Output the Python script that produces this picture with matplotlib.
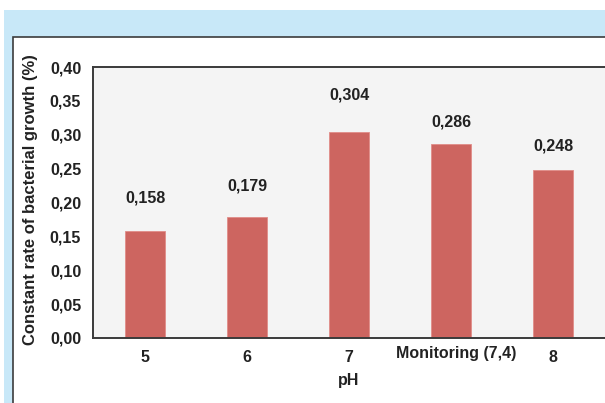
import matplotlib.pyplot as plt
from matplotlib.patches import Rectangle
from matplotlib.ticker import FuncFormatter
from matplotlib.transforms import ScaledTranslation

plt.rcParams['font.family'] = ['Liberation Sans', 'DejaVu Sans']

# growth rate per pH condition
categories = ["5", "6", "7", "Monitoring (7,4)", "8"]
rates = [0.158, 0.179, 0.304, 0.286, 0.248]
yticks = [0.0, 0.05, 0.10, 0.15, 0.20, 0.25, 0.30, 0.35, 0.40]

# vertical gap (points) between each bar and its value label
label_gap = [24, 22, 27, 16, 17]

W, H = 605, 403
fig = plt.figure(figsize=(W / 100, H / 100), dpi=100)

# light blue frame and white panel behind the chart
fig.patches.append(Rectangle((4 / W, 0), 1, 1 - 10 / H, transform=fig.transFigure,
                             facecolor='#c8e8f8', edgecolor='none', zorder=-3))
fig.patches.append(Rectangle((13 / W, -0.05), 1, 1 - 37 / H + 0.05, transform=fig.transFigure,
                             facecolor='white', edgecolor='#3c3c3c', linewidth=1.2, zorder=-2))

ax = fig.add_axes([93 / W, 1 - 338 / H, (640 - 93) / W, (338 - 67) / H])
ax.set_facecolor('#f4f4f4')

x = list(range(len(categories)))
ax.bar(x, rates, width=0.4, color='#cd6560', edgecolor='#e08c88', linewidth=0.6, zorder=2)

for xi, v, g in zip(x, rates, label_gap):
    ax.annotate(f"{v:.3f}".replace('.', ','), (xi, v), xytext=(0, g), textcoords='offset points',
                ha='center', va='center', fontsize=11.5, fontweight='bold', color='#222222')

ax.set_xlim(-0.51, -0.51 + (640 - 93) / 102)
ax.set_ylim(0, 0.4)
ax.set_yticks(yticks)
ax.yaxis.set_major_formatter(FuncFormatter(lambda v, p: f"{v:.2f}".replace('.', ',')))
ax.set_xticks(x)
ax.set_xticklabels(categories)
ax.tick_params(length=0, labelsize=11.5, colors='#222222')
ax.tick_params(axis='y', pad=8.5)
ax.tick_params(axis='x', pad=9)
for lbl in ax.get_xticklabels() + ax.get_yticklabels():
    lbl.set_fontweight('bold')
for lbl in ax.get_xticklabels():
    if lbl.get_text().startswith("Monitoring"):
        lbl.set_transform(lbl.get_transform() + ScaledTranslation(4 / 72, 3 / 72, fig.dpi_scale_trans))

for s in ax.spines.values():
    s.set_color('#3a3a3a')
    s.set_linewidth(1.4)

ax.set_xlabel("pH", fontsize=11.5, fontweight='bold', color='#222222')
ax.set_ylabel("Constant rate of bacterial growth (%)", fontsize=12, fontweight='bold',
              color='#222222')
ax.xaxis.set_label_coords((349 - 93) / (640 - 93), -(380 - 338) / (338 - 67))
ax.xaxis.label.set_va('center')
ax.yaxis.set_label_coords(-(93 - 31) / (640 - 93), (338 - 200) / (338 - 67))
ax.yaxis.label.set_va('center')

fig.savefig("out.png", dpi=100)
